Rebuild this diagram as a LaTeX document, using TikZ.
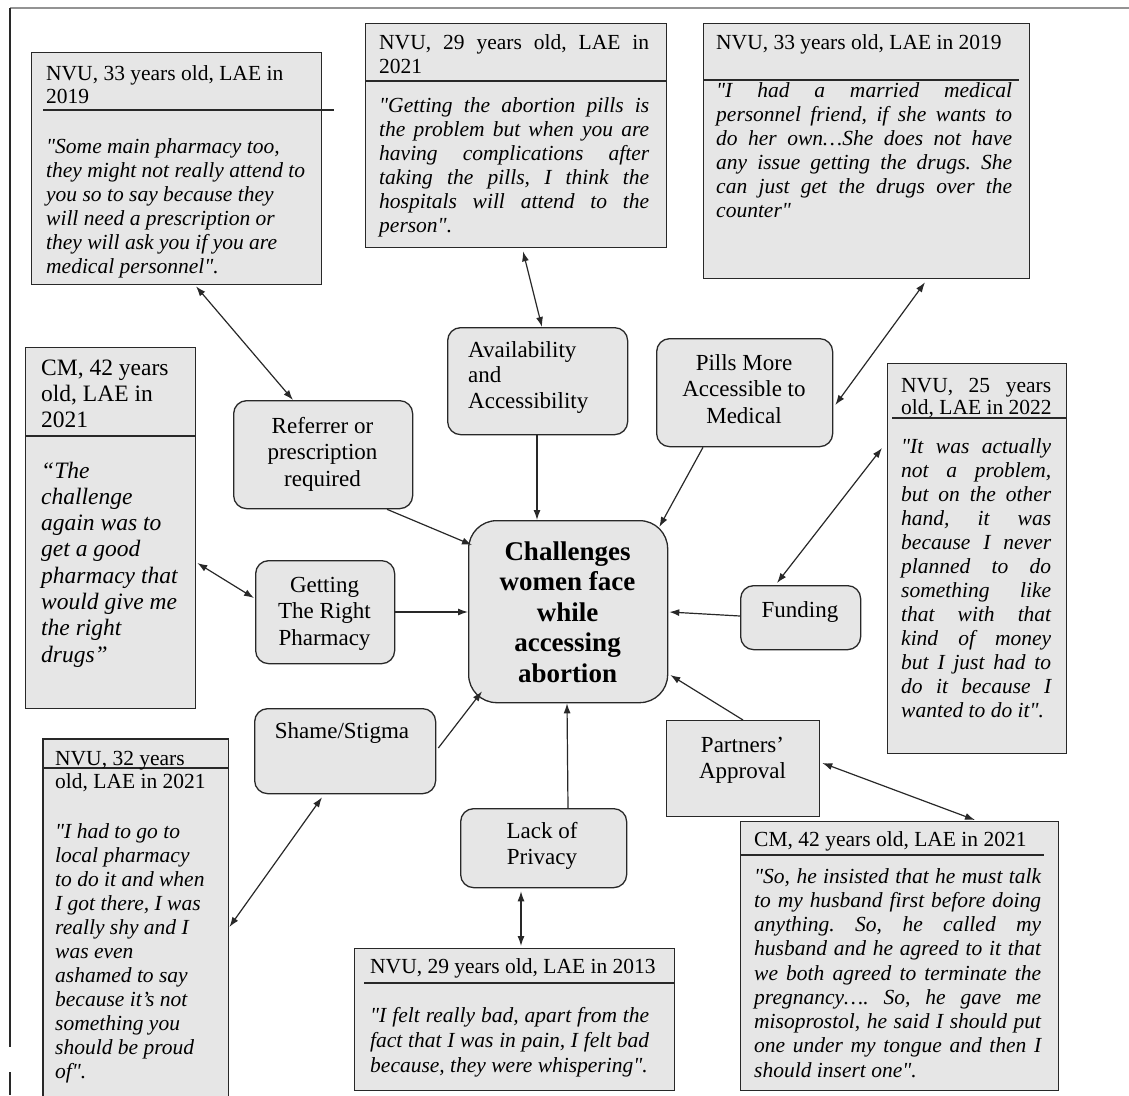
\documentclass[tikz,border=0pt]{standalone}
\usepackage{fontspec}
\setmainfont{Liberation Serif}
\newfontfamily\sqfont{Liberation Serif}[Ligatures=TeXOff]
\usetikzlibrary{arrows.meta,calc}
\definecolor{boxfill}{RGB}{230,230,230}
\definecolor{edgecol}{RGB}{40,40,40}
\newcommand{\jline}[2][\linewidth]{\makebox[#1][s]{\spaceskip=0pt\xspaceskip=0pt #2}}
\newcommand{\dq}{{\sqfont\symbol{34}}}
\frenchspacing
\begin{document}
\begin{tikzpicture}[x=1pt,y=-1pt,
  qbox/.style={draw=edgecol, fill=boxfill, line width=1.3pt, rectangle, inner sep=0pt, anchor=north west},
  catbox/.style={draw=edgecol, fill=boxfill, line width=1.3pt, rounded corners=13pt, rectangle, inner sep=0pt, anchor=north west},
  sepline/.style={draw=edgecol, line width=1.3pt},
  hd/.style={anchor=base west, inner sep=0pt, align=flush left, font=\fontsize{21.5}{24}\selectfont},
  qt/.style={anchor=base west, inner sep=0pt, align=flush left, font=\fontsize{21.5}{24}\selectfont\itshape},
  ct/.style={anchor=base, inner sep=0pt, align=flush center, font=\fontsize{23}{26.5}\selectfont},
  twoway/.style={draw=edgecol, line width=1.2pt, {Latex[length=10pt,width=7pt]}-{Latex[length=10pt,width=7pt]}},
  oneway/.style={draw=edgecol, line width=1.2pt, -{Latex[length=10pt,width=7pt]}},
]
\useasboundingbox (0,0) rectangle (1129,1095);
% frame
\draw[draw=gray!85, line width=2pt] (10,8) -- (1129,8);
\draw[draw=edgecol, line width=1.8pt] (10,8) -- (10,1047) (10,1072) -- (10,1095);

% ---------- quote boxes ----------
% A
\node[qbox, minimum width=290, minimum height=232] (A) at (31,52) {};
\draw[sepline] (43,110) -- (334,110);
\node[hd, text width=280] (Ah) at (46,80) {NVU, 33 years old, LAE in\\[-1pt]2019};
\node[qt, text width=275] (Aq) at (46,153) {\dq Some main pharmacy too,\\they might not really attend to\\you so to say because they\\will need a prescription or\\they will ask you if you are\\medical personnel\dq.};

% B
\node[qbox, minimum width=301, minimum height=224] (B) at (365,23) {};
\draw[sepline] (365,81) -- (666,81);
\node[hd, text width=280] (Bh) at (379,49) {\jline[270pt]{NVU, 29 years old, LAE in}\\2021};
\node[qt, text width=280] (Bq) at (379,112) {\jline[270pt]{\dq Getting the abortion pills is}\\\jline[270pt]{the problem but when you are}\\\jline[270pt]{having complications after}\\\jline[270pt]{taking the pills, I think the}\\\jline[270pt]{hospitals will attend to the}\\person\dq.};

% C
\node[qbox, minimum width=326, minimum height=255] (C) at (703,23) {};
\draw[sepline] (703,80) -- (1019,80);
\node[hd, text width=305] (Ch) at (716,49) {NVU, 33 years old, LAE in 2019};
\node[qt, text width=305] (Cq) at (716,97) {\jline[296pt]{\dq I had a married medical}\\\jline[296pt]{personnel friend, if she wants to}\\\jline[296pt]{do her own…She does not have}\\\jline[296pt]{any issue getting the drugs. She}\\\jline[296pt]{can just get the drugs over the}\\counter\dq};

% D
\node[qbox, minimum width=170, minimum height=361] (D) at (25,347) {};
\draw[sepline] (25,436) -- (195,436);
\node[hd, text width=150, font=\fontsize{23.5}{26}\selectfont] (Dh) at (41,375) {CM, 42 years\\old, LAE in\\2021};
\node[qt, text width=150, font=\fontsize{23.5}{26.3}\selectfont\itshape] (Dq) at (41,478) {“The\\challenge\\again was to\\get a good\\pharmacy that\\would give me\\the right\\drugs”};

% E
\node[qbox, minimum width=179, minimum height=390] (E) at (887,363) {};
\draw[sepline] (892,418) -- (1066,418);
\node[hd, text width=165, font=\fontsize{21.5}{22}\selectfont] (Eh) at (901,392) {\jline[150pt]{NVU, 25 years}\\old, LAE in 2022};
\node[qt, text width=165] (Eq) at (901,453) {\jline[150pt]{\dq It was actually}\\\jline[150pt]{not a problem,}\\\jline[150pt]{but on the other}\\\jline[150pt]{hand, it was}\\\jline[150pt]{because I never}\\\jline[150pt]{planned to do}\\\jline[150pt]{something like}\\\jline[150pt]{that with that}\\\jline[150pt]{kind of money}\\\jline[150pt]{but I just had to}\\\jline[150pt]{do it because I}\\wanted to do it\dq.};

% F (bottom edge outside the picture)
\node[anchor=north west, fill=boxfill, inner sep=0pt, minimum width=185, minimum height=360] (F) at (43,739) {};
\draw[draw=edgecol, line width=1.3pt] (F.south west) -- (F.north west) -- (F.north east) -- (F.south east);
\draw[sepline] (43,768) -- (228,768);
\node[hd, text width=170, font=\fontsize{21.5}{23}\selectfont] (Fh) at (55,765) {NVU, 32 years\\old, LAE in 2021};
\node[qt, text width=170] (Fq) at (55,838) {\dq I had to go to\\local pharmacy\\to do it and when\\I got there, I was\\really shy and I\\was even\\ashamed to say\\because it's not\\something you\\should be proud\\of\dq.};

% G
\node[qbox, minimum width=320, minimum height=142] (G) at (354,948) {};
\draw[sepline] (364,983) -- (674,983);
\node[hd, text width=300] (Gh) at (370,973) {NVU, 29 years old, LAE in 2013};
\node[qt, text width=295, font=\fontsize{21.5}{25}\selectfont\itshape] (Gq) at (370,1022) {\jline[279pt]{\dq I felt really bad, apart from the}\\\jline[279pt]{fact that I was in pain, I felt bad}\\because, they were whispering\dq.};

% H
\node[qbox, minimum width=318, minimum height=269] (H) at (740,821) {};
\draw[sepline] (740,855) -- (1044,855);
\node[hd, text width=300] (Hh) at (754,846) {CM, 42 years old, LAE in 2021};
\node[qt, text width=295, font=\fontsize{21.5}{24.25}\selectfont\itshape] (Hq) at (754,883) {\jline[287pt]{\dq So, he insisted that he must talk}\\\jline[287pt]{to my husband first before doing}\\\jline[287pt]{anything. So, he called my}\\\jline[287pt]{husband and he agreed to it that}\\\jline[287pt]{we both agreed to terminate the}\\\jline[287pt]{pregnancy…. So, he gave me}\\\jline[287pt]{misoprostol, he said I should put}\\\jline[287pt]{one under my tongue and then I}\\should insert one\dq.};

% ---------- category boxes ----------
\node[catbox, minimum width=179, minimum height=108] (R) at (233,400) {};
\node[ct, text width=179] (Rt) at (322.5,433) {Referrer or\\prescription\\required};

\node[catbox, minimum width=180, minimum height=107] (Av) at (447,327) {};
\node[hd, text width=160, font=\fontsize{23}{25.5}\selectfont] (Avt) at (468,357) {Availability\\and\\Accessibility};

\node[catbox, minimum width=139, minimum height=103] (Gt) at (255,560) {};
\node[ct, text width=139] (Gtt) at (324.5,592) {Getting\\The Right\\Pharmacy};

\node[catbox, minimum width=176, minimum height=108] (P) at (656,338) {};
\node[ct, text width=176] (Pt) at (744,370) {Pills More\\Accessible to\\Medical};

\node[catbox, minimum width=120, minimum height=64] (Fu) at (740,585) {};
\node[ct, text width=120] (Fut) at (800,617) {Funding};

\node[qbox, minimum width=153, minimum height=96] (Pa) at (666,720) {};
\node[ct, text width=153] (Pat) at (742.5,752) {Partners’\\Approval};

\node[catbox, minimum width=181, minimum height=85] (S) at (254,708) {};
\node[ct, text width=181] (St) at (342,738) {Shame/Stigma};

\node[catbox, minimum width=166, minimum height=79] (L) at (460,808) {};
\node[ct, text width=166] (Lt) at (542,838) {Lack of\\Privacy};

\node[catbox, rounded corners=28pt, minimum width=199, minimum height=182] (Ctr) at (468,520) {};
\node[ct, text width=199, font=\fontsize{27}{30.5}\selectfont\bfseries] (Ctrt) at (567.5,560) {Challenges\\women face\\while\\accessing\\abortion};

% ---------- connectors ----------
\draw[twoway] ($(A.south west)+(165,1)$) -- ($(R.north west)+(60,0)$);
\draw[twoway] ($(B.south west)+(158,3)$) -- ($(Av.north west)+(95,0)$);
\draw[twoway] ($(C.south west)+(222,3)$) -- ($(P.north east)+(2,67)$);
\draw[twoway] ($(D.north east)+(1,216)$) -- ($(Gt.north west)+(-1,38)$);
\draw[twoway] ($(E.north west)+(-5,85)$) -- ($(Fu.north west)+(37,-2)$);
\draw[twoway] ($(F.north east)+(1,188)$) -- ($(S.south west)+(68,3)$);
\draw[twoway] ($(L.south west)+(61,3)$) -- ($(G.north west)+(167,-2)$);
\draw[twoway] ($(Pa.north east)+(2,43)$) -- ($(H.north west)+(235,-1)$);

\draw[oneway] ($(R.south west)+(154,0)$) -- ($(Ctr.north west)+(4,25)$);
\draw[oneway] ($(Av.south west)+(90,0)$) -- ($(Ctr.north west)+(69,0)$);
\draw[oneway] ($(P.south west)+(47,0)$) -- ($(Ctr.north east)+(-9,7)$);
\draw[oneway] ($(Gt.north east)+(0,52)$) -- ($(Ctr.north west)+(0,92)$);
\draw[oneway] ($(Fu.north west)+(0,31)$) -- ($(Ctr.north east)+(1,92)$);
\draw[oneway] ($(Pa.north west)+(77,0)$) -- ($(Ctr.north east)+(2,155)$);
\draw[oneway] ($(S.north east)+(2,40)$) -- ($(Ctr.south west)+(14,-12)$);
\draw[oneway] ($(L.north west)+(108,0)$) -- ($(Ctr.south west)+(99,0)$);
\end{tikzpicture}
\end{document}
